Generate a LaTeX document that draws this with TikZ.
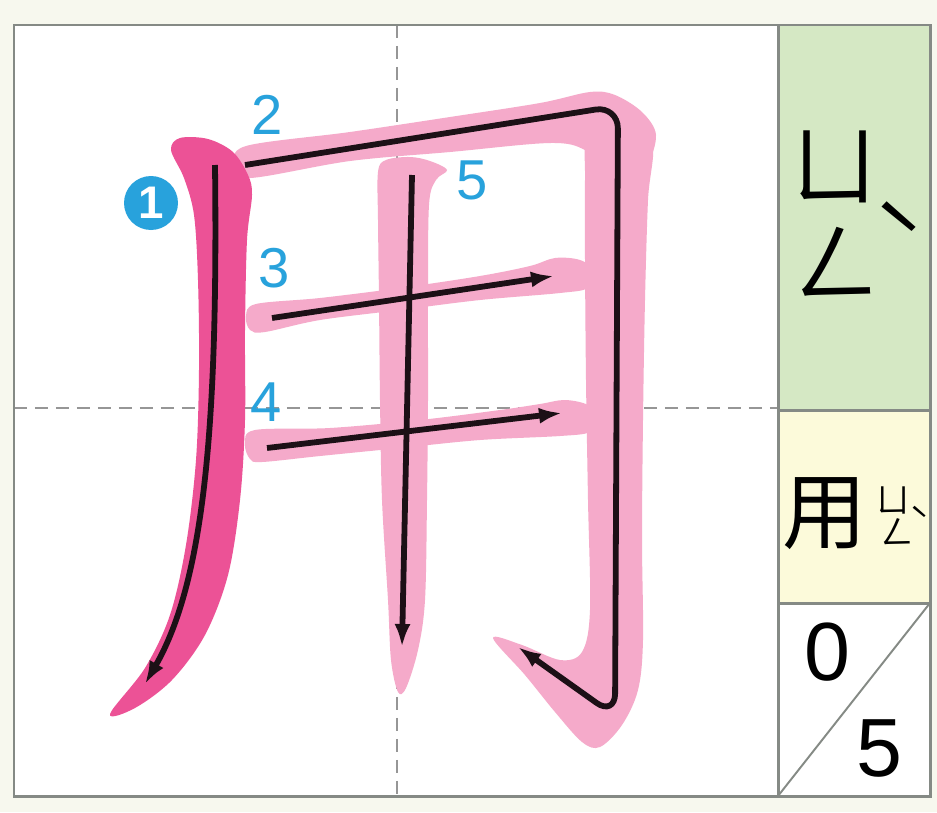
\documentclass[tikz,border=0pt]{standalone}
\usepackage{fontspec}
\setmainfont{Liberation Sans}
\newfontfamily\cjkfont{Noto Sans CJK TC}
\usepackage{tikz}
\usetikzlibrary{arrows.meta,calc}
\definecolor{paperCream}{RGB}{247,248,238}
\definecolor{frameGray}{RGB}{133,138,133}
\definecolor{gridGray}{RGB}{150,150,150}
\definecolor{hotPink}{RGB}{236,82,150}
\definecolor{softPink}{RGB}{245,170,202}
\definecolor{labelBlue}{RGB}{40,162,220}
\definecolor{cellGreen}{RGB}{213,232,196}
\definecolor{cellYellow}{RGB}{252,250,218}
\definecolor{inkBlack}{RGB}{28,16,22}
\def\PixW{0.02cm}
\def\TensionVal{0.55}

\begin{document}
\begin{tikzpicture}[x=\PixW,y=-\PixW,
	framed/.style={draw=frameGray,line width=1.7pt},
	gridline/.style={draw=gridGray,line width=1.4pt,dash pattern=on 0.26cm off 0.16cm},
	strokeone/.style={fill=hotPink},
	strokerest/.style={fill=softPink},
	order/.style={draw=inkBlack,line width=3.3pt,-{Latex[length=0.46cm,width=0.32cm]}},
	numlabel/.style={text=labelBlue,font=\fontsize{32}{32}\selectfont,inner sep=0pt},
	zhuyin/.style={font=\cjkfont\fontsize{50}{50}\selectfont,inner sep=0pt},
	zhuyinsmall/.style={font=\cjkfont\fontsize{19}{19}\selectfont,inner sep=0pt},
	countnum/.style={font=\fontsize{47}{47}\selectfont,inner sep=0pt}]
	\useasboundingbox (0,0) rectangle (937,812);
	\fill[paperCream] (0,0) rectangle (937,812);
	% 
	\coordinate (nw) at (14,25);
	\coordinate (se) at (930,796);
	\coordinate (colx) at (778,25);
	\coordinate (cutA) at (778,410);
	\coordinate (cutB) at (778,603);
	\coordinate (colbot) at (colx |- se);
	\coordinate (midtop) at (397,25);
	\coordinate (midbot) at (midtop |- se);
	\coordinate (midleft) at (14,408);
	\coordinate (midright) at (colx |- midleft);
	% cells
	\fill[white] (nw) rectangle (colbot);
	\fill[cellGreen] (colx) rectangle (cutA -| se);
	\fill[cellYellow] (cutA) rectangle (cutB -| se);
	\fill[white] (cutB) rectangle (se);
	\draw[gridline] (midtop) -- (midbot);
	\draw[gridline] (midleft) -- (midright);
	% 
	\draw[framed] (nw) rectangle (se);
	\draw[framed] (colx) -- (colbot);
	\draw[framed] (cutA) -- (cutA -| se);
	\draw[framed] (cutB) -- (cutB -| se);
	\draw[draw=frameGray,line width=1.1pt] (colbot) -- (cutB -| se);
	% light strokes 2..5
	\fill[strokerest] plot[smooth cycle,tension=\TensionVal] coordinates {
		(236,165) (246,146) (350,132) (450,117) (540,103) (590,92) (615,95)
		(642,112) (656,135) (645,165) (610,172) (585,150) (550,143)
		(450,152) (350,161) (250,178)};
	\fill[strokerest] plot[smooth cycle,tension=\TensionVal] coordinates {
		(588,130) (622,118) (652,142) (648,200) (645,300) (643,420) (642,540)
		(643,640) (638,690) (622,725) (600,747) (582,742) (555,712) (525,675)
		(493,638) (522,645) (560,660) (582,652) (590,610) (588,500) (586,380)
		(585,260) (585,180)};
	\fill[strokerest] plot[smooth cycle,tension=\TensionVal] coordinates {
		(250,330) (246,316) (256,304) (320,298) (400,288) (480,276) (530,266)
		(555,258) (580,260) (596,272) (588,288) (560,293) (480,300) (400,310)
		(320,320) (265,332)};
	\fill[strokerest] plot[smooth cycle,tension=\TensionVal] coordinates {
		(250,459) (245,444) (255,430) (330,428) (420,420) (500,410) (540,404)
		(565,400) (588,405) (598,418) (590,432) (560,436) (480,440) (400,448)
		(320,456) (262,462)};
	\fill[strokerest] plot[smooth cycle,tension=\TensionVal] coordinates {
		(378,172) (386,160) (410,157) (430,161) (447,170) (436,180) (429,205)
		(428,300) (428,400) (427,500) (425,600) (418,650) (406,688) (398,692)
		(391,660) (388,600) (382,500) (380,400) (379,300) (378,220)};
	% dark stroke 1
	\fill[strokeone] plot[smooth cycle,tension=\TensionVal] coordinates {
		(110,714) (145,668) (170,615) (186,545) (196,460) (199,370) (198,280)
		(194,215) (184,178) (171,150) (180,138) (208,139) (233,152) (248,175)
		(252,195) (247,240) (245,330) (245,420) (240,500) (228,575) (205,635)
		(172,680) (135,708)};
	% stroke order arrows
	\coordinate (s1top) at (215,165);
	\coordinate (s1end) at (145,684);
	\coordinate (s2top) at (245,165);
	\coordinate (s2turn) at (618,106);
	\coordinate (s2foot) at (615,716);
	\coordinate (s2end) at (518,647);
	\coordinate (s3top) at (272,318);
	\coordinate (s3end) at (554,276);
	\coordinate (s4top) at (267,448);
	\coordinate (s4end) at (562,413);
	\coordinate (s5top) at (412,175);
	\coordinate (s5end) at (402,647);
	\draw[order] (s1top) .. controls (218,420) and (205,580) .. (s1end);
	\draw[order,rounded corners=0.45cm] (s2top) -- (s2turn) -- (s2foot) -- (s2end);
	\draw[order] (s3top) -- (s3end);
	\draw[order] (s4top) -- (s4end);
	\draw[order] (s5top) -- (s5end);
	% order numbers
	\node[circle,fill=labelBlue,minimum size=1.08cm,inner sep=0pt,text=white,
		font=\bfseries\fontsize{26}{26}\selectfont] (n1) at (151,203) {1};
	\node[numlabel] (n2) at (267,115) {2};
	\node[numlabel] (n3) at (274,268) {3};
	\node[numlabel] (n4) at (266,402) {4};
	\node[numlabel] (n5) at (472,180) {5};
	% side column
	\node[zhuyin] (yu) at (834,167) {ㄩ};
	\node[zhuyin] (eng) at (836,262) {ㄥ};
	\node[zhuyin] (tone) at (899,238) {ˋ};
	\node[font=\cjkfont\fontsize{48}{48}\selectfont,inner sep=0pt] (yong) at (825,514) {用};
	\node[zhuyinsmall] (yusmall) at (893,500) {ㄩ};
	\node[zhuyinsmall] (engsmall) at (897,532) {ㄥ};
	\node[zhuyinsmall] (tonesmall) at (920,520) {ˋ};
	\node[countnum] (zero) at (827,652) {0};
	\node[countnum] (five) at (879,748) {5};
\end{tikzpicture}
\end{document}
